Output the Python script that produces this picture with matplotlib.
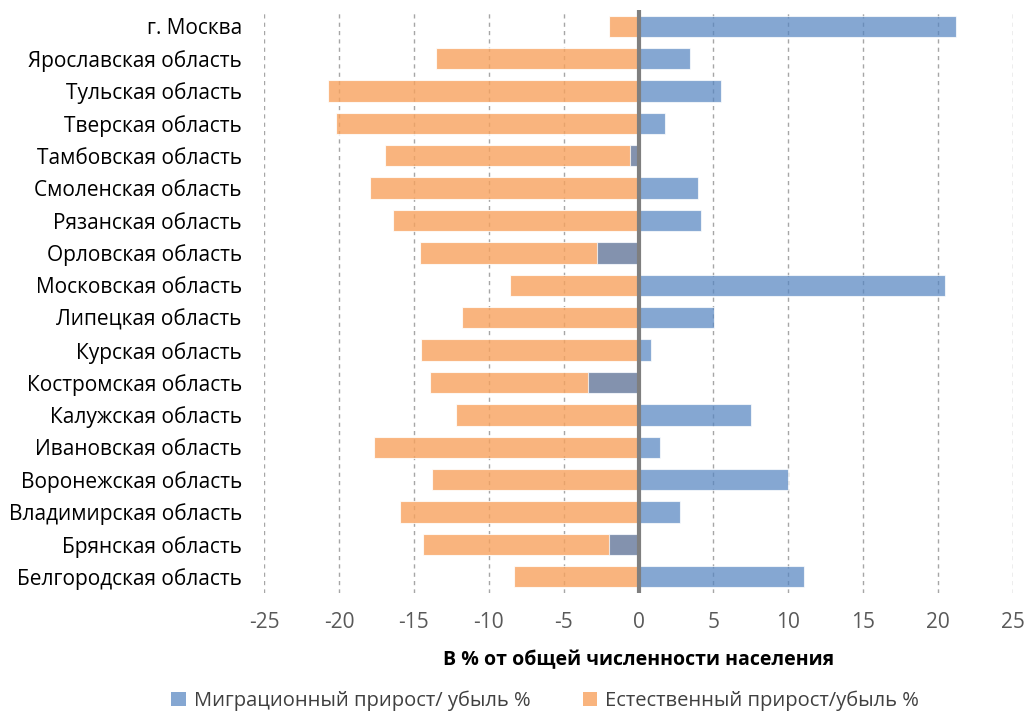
import matplotlib
matplotlib.use("Agg")
import matplotlib.pyplot as plt
from matplotlib.patches import Patch

plt.rcParams['font.family'] = ['Open Sans', 'DejaVu Sans']

regions = [
    "г. Москва", "Ярославская область", "Тульская область", "Тверская область",
    "Тамбовская область", "Смоленская область", "Рязанская область", "Орловская область",
    "Московская область", "Липецкая область", "Курская область", "Костромская область",
    "Калужская область", "Ивановская область", "Воронежская область", "Владимирская область",
    "Брянская область", "Белгородская область",
]
migration = [21.2, 3.45, 5.5, 1.8, -0.55, 4.0, 4.15, -2.8, 20.45, 5.05, 0.85, -3.35,
             7.5, 1.45, 9.95, 2.8, -1.95, 11.05]
natural = [-2.0, -13.55, -20.7, -20.2, -16.9, -17.95, -16.4, -14.6, -8.6, -11.8, -14.5,
           -13.9, -12.2, -17.65, -13.8, -15.9, -14.4, -8.3]
xticks = [-25, -20, -15, -10, -5, 0, 5, 10, 15, 20, 25]
xlabel = "В % от общей численности населения"
legend_labels = ["Миграционный прирост/ убыль %", "Естественный прирост/убыль %"]

blue = (86/255, 133/255, 193/255)
orange = "#f8a25e"

fig = plt.figure(figsize=(10.26, 7.13), dpi=100)
ax = fig.add_axes([264/1026, 1 - 593/713, (1013 - 264)/1026, (593 - 10)/713])

y = list(range(len(regions)))
ax.barh(y, natural, height=0.66, color=orange, alpha=0.8, zorder=2,
        edgecolor=(1, 1, 1, 0.5), linewidth=0.8)
ax.barh(y, migration, height=0.66, color=blue, alpha=0.72, zorder=3,
        edgecolor=(1, 1, 1, 0.5), linewidth=0.8)

ax.set_xlim(-25, 25)
ax.set_ylim(len(regions) - 0.5, -0.5)
ax.set_xticks(xticks)
ax.set_xticklabels([str(t) for t in xticks], color="#595959", fontsize=15)
ax.set_yticks(y)
ax.set_yticklabels(regions, fontsize=15, color="#000000")
ax.tick_params(axis="both", length=0)
ax.tick_params(axis="x", pad=14)
ax.tick_params(axis="y", pad=16)

for t in xticks:
    if t != 0:
        ax.axvline(t, color="#a6a6a6", linestyle=(0, (3, 3)), linewidth=1.0, zorder=0)
ax.axvline(0, color="#7f7f7f", linewidth=3, zorder=5)

for s in ax.spines.values():
    s.set_visible(False)

ax.set_xlabel(xlabel, fontsize=14, fontweight="bold", labelpad=12)

handles = [Patch(facecolor=blue, alpha=0.72), Patch(facecolor=orange, alpha=0.8)]
fig.legend(handles, legend_labels, loc="center", bbox_to_anchor=(545/1026, 1 - 701/713),
           ncol=2, frameon=False, fontsize=14.5, handlelength=0.7, handleheight=0.7,
           handletextpad=0.4, columnspacing=2.6, labelcolor="#404040")

fig.savefig("out.png", dpi=100)
